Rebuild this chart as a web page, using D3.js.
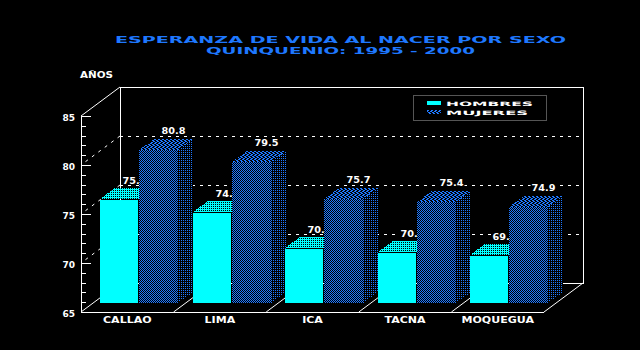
<!DOCTYPE html>
<html>
<head>
<meta charset="utf-8">
<script src="https://cdn.jsdelivr.net/npm/d3@7"></script>
<style>
    html, body { margin: 0; padding: 0; background: #000; }
    svg { display: block; }
    text { font-family: "DejaVu Sans", sans-serif; font-weight: bold; }
</style>
</head>
<body>
<svg id="chart" width="640" height="350"></svg>
<script>
const categories = ["CALLAO", "LIMA", "ICA", "TACNA", "MOQUEGUA"];
const hombres = [75.6, 74.3, 70.6, 70.2, 69.8];
const mujeres = [80.8, 79.5, 75.7, 75.4, 74.9];
const seriesNames = ["HOMBRES", "MUJERES"];
const titleLines = ["ESPERANZA DE VIDA AL NACER POR SEXO", "QUINQUENIO: 1995 - 2000"];
const yLabel = "AÑOS";
const majorTicks = [65, 70, 75, 80, 85];
const minorTicks = d3.range(65, 86);
const gridTicks = [70, 75, 80];

const BLUE = "#1e78ff", CYAN = "#00ffff", WHITE = "#fff";
const svg = d3.select("#chart");
const defs = svg.append("defs");

// bitmap style fills, same as the old plotter dither
function addPattern (id, size, bg, fg, cells) {
    let p = defs.append("pattern").attr("id", id)
        .attr("patternUnits", "userSpaceOnUse")
        .attr("width", size).attr("height", size);
    p.append("rect").attr("width", size).attr("height", size).attr("fill", bg)
        .attr("shape-rendering", "crispEdges");
    cells.forEach((c) => {
        p.append("rect").attr("x", c[0]).attr("y", c[1])
            .attr("width", 1).attr("height", 1).attr("fill", fg)
            .attr("shape-rendering", "crispEdges");
    });
}
addPattern("checker", 2, "#000", BLUE, [[1, 0], [0, 1]]);
addPattern("dots", 2, "#000", BLUE, [[1, 0]]);
addPattern("hatch", 4, "#000", BLUE, [[1, 1], [2, 1], [3, 2], [0, 2], [2, 3], [3, 3], [1, 0], [0, 0]]);
addPattern("cyanDots", 2, CYAN, "#000", [[1, 0]]);

// floor and wall geometry
const left = 81, right = 544, floorY = 312, topY = 116;
const depthX = 39, depthY = 29;
const barDepthX = 15, barDepthY = 11;

const yFront = d3.scaleLinear().domain([65, 85]).range([floorY, topY]);
const yBack = d3.scaleLinear().domain([65, 85]).range([floorY - depthY, topY - depthY]);
const yBar = d3.scaleLinear().domain([65, 85]).range([303, 109]);
const xCat = d3.scaleBand().domain(categories).range([left, right]);
const xSeries = d3.scaleBand().domain(seriesNames).range([19, 97]);

function wide (sel, x, y, txt, size, width, color) {
    return sel.append("text").attr("x", x).attr("y", y)
        .attr("font-size", size).attr("fill", color)
        .attr("textLength", width).attr("lengthAdjust", "spacingAndGlyphs")
        .text(txt);
}

// title
wide(svg, 115, 43, titleLines[0], 9, 451, BLUE);
wide(svg, 206, 53.5, titleLines[1], 9, 269, BLUE);
wide(svg, 80, 78, yLabel, 8.5, 33, WHITE);

// walls
const walls = svg.append("g").attr("fill", "none").attr("stroke", WHITE).attr("shape-rendering", "crispEdges");
walls.append("path").attr("d",
    "M" + (left + depthX) + "," + yBack(65) + "V" + yBack(85) + "H" + (right + depthX) + "V" + yBack(65) + "H" + (left + depthX));
const diag = svg.append("g").attr("fill", "none").attr("stroke", WHITE);
diag.append("line").attr("x1", left).attr("y1", yFront(85)).attr("x2", left + depthX).attr("y2", yBack(85));

// dotted grid on back and side walls
const grid = svg.append("g").attr("fill", "none").attr("stroke", WHITE).attr("stroke-dasharray", "3,5");
grid.selectAll(".back").data(gridTicks).enter().append("line")
    .attr("shape-rendering", "crispEdges")
    .attr("x1", left + depthX).attr("x2", right + depthX)
    .attr("y1", (d) => yBack(d) + 0.5).attr("y2", (d) => yBack(d) + 0.5);
grid.selectAll(".side").data(gridTicks).enter().append("line")
    .attr("x1", left + depthX).attr("x2", left)
    .attr("y1", (d) => yBack(d)).attr("y2", (d) => yFront(d));

// floor separators
const floorCuts = categories.map((c) => xCat(c)).concat([right]);
diag.selectAll(".cut").data(floorCuts).enter().append("line")
    .attr("x1", (d) => d).attr("y1", floorY)
    .attr("x2", (d) => d + depthX).attr("y2", floorY - depthY);

// bars, back to front per category so the women's bar hides the men's label
const groups = svg.selectAll(".cat").data(categories).enter().append("g")
    .attr("class", "cat");

function valueLabel (g, x, y, txt) {
    let cx = x + barDepthX;
    g.append("rect").attr("x", cx - 13).attr("y", y - 8).attr("width", 26).attr("height", 9).attr("fill", "#000");
    g.append("text").attr("x", cx).attr("y", y).attr("text-anchor", "middle")
        .attr("font-size", 8.5).attr("fill", WHITE)
        .attr("textLength", 24).attr("lengthAdjust", "spacingAndGlyphs").text(txt);
}

// no group translate here, the dither has to stay in page coordinates
groups.each(function (d, i) {
    let g = d3.select(this);
    let w = xSeries.bandwidth();
    let bx = Math.round(xCat(d));
    let xm = bx + xSeries(seriesNames[0]), xf = bx + xSeries(seriesNames[1]);
    let tm = Math.round(yBar(hombres[i])), tf = Math.round(yBar(mujeres[i])), base = yBar(65);

    // men
    g.append("path").attr("fill", "url(#cyanDots)").attr("shape-rendering", "crispEdges")
        .attr("d", "M" + xm + "," + (tm - 1) + "l" + barDepthX + "," + (-barDepthY) + "h" + w + "l" + (-barDepthX) + "," + barDepthY + "z");
    valueLabel(g, xm + w / 2, tm - barDepthY - 5, hombres[i].toFixed(1));
    g.append("rect").attr("x", xm).attr("y", tm).attr("width", w - 1).attr("height", base - tm).attr("fill", CYAN);

    // women
    valueLabel(g, xf + w / 2, tf - barDepthY - 5, mujeres[i].toFixed(1));
    g.append("path").attr("fill", "url(#dots)").attr("shape-rendering", "crispEdges")
        .attr("d", "M" + (xf + w) + "," + tf + "l" + barDepthX + "," + (-barDepthY) + "V" + (base - barDepthY) + "l" + (-barDepthX) + "," + barDepthY + "z");
    g.append("path").attr("fill", "url(#hatch)").attr("shape-rendering", "crispEdges")
        .attr("d", "M" + xf + "," + tf + "l" + barDepthX + "," + (-barDepthY) + "h" + w + "l" + (-barDepthX) + "," + barDepthY + "z");
    g.append("rect").attr("x", xf).attr("y", tf).attr("width", w).attr("height", base - tf)
        .attr("fill", "url(#checker)").attr("shape-rendering", "crispEdges");
});

// front axis
const axisG = svg.append("g").attr("transform", "translate(" + left + ",0)");
axisG.append("g").call(d3.axisLeft(yFront).tickValues(minorTicks).tickSize(-5).tickFormat(""));
axisG.append("g").call(d3.axisLeft(yFront).tickValues(majorTicks).tickSize(-10).tickPadding(6).tickFormat(d3.format("d")));
axisG.selectAll(".domain").attr("stroke", WHITE).attr("stroke-width", 1);
axisG.selectAll(".tick line").attr("stroke", WHITE).attr("shape-rendering", "crispEdges");
axisG.selectAll(".tick text").attr("fill", WHITE).attr("font-size", 9)
    .attr("font-family", "DejaVu Sans").attr("dy", "0.45em");
svg.append("line").attr("x1", left).attr("x2", right).attr("y1", floorY + 0.5).attr("y2", floorY + 0.5)
    .attr("stroke", WHITE).attr("shape-rendering", "crispEdges");

// category labels
svg.selectAll(".catLabel").data(categories).enter().append("text")
    .attr("class", "catLabel")
    .attr("transform", (d) => "translate(" + (xCat(d) + xCat.bandwidth() / 2) + ",323) scale(1.3,1)")
    .attr("text-anchor", "middle").attr("font-size", 8.5).attr("fill", WHITE)
    .text((d) => d);

// legend
const legend = svg.append("g");
legend.append("rect").attr("x", 413.5).attr("y", 95.5).attr("width", 133).attr("height", 25)
    .attr("fill", "#000").attr("stroke", "#555");
legend.append("rect").attr("x", 427).attr("y", 101).attr("width", 14).attr("height", 4).attr("fill", CYAN);
legend.append("rect").attr("x", 427).attr("y", 110).attr("width", 14).attr("height", 4).attr("fill", "url(#hatch)");
wide(legend, 446, 106, seriesNames[0], 6, 87, WHITE);
wide(legend, 446, 115, seriesNames[1], 6, 82, WHITE);
</script>
</body>
</html>
